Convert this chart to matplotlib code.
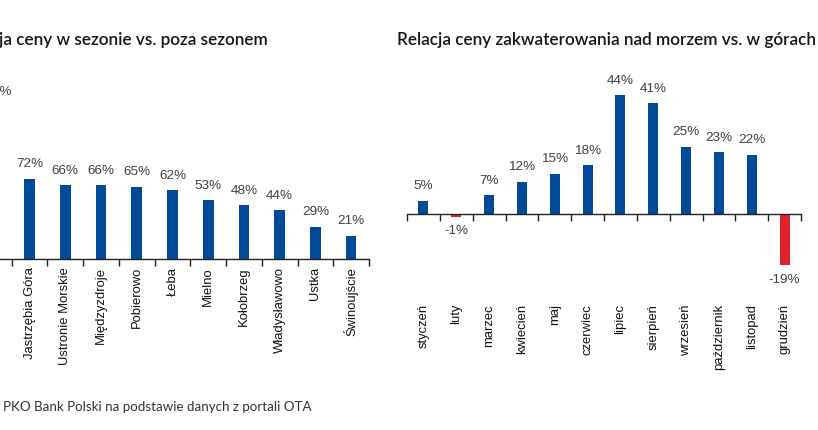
import matplotlib
matplotlib.use("Agg")
import matplotlib.pyplot as plt
from matplotlib.transforms import blended_transform_factory

# ---------------- data ----------------
left_title = "Relacja ceny w sezonie vs. poza sezonem"
left_categories = ["Krynica Morska", "Jastrzębia Góra", "Ustronie Morskie", "Międzyzdroje",
                   "Pobierowo", "Łeba", "Mielno", "Kołobrzeg", "Władysławowo", "Ustka",
                   "Świnoujście"]
left_values = [137, 72, 66, 66, 65, 62, 53, 48, 44, 29, 21]

right_title = "Relacja ceny zakwaterowania nad morzem vs. w górach"
right_categories = ["styczeń", "luty", "marzec", "kwiecień", "maj", "czerwiec", "lipiec",
                    "sierpień", "wrzesień", "październik", "listopad", "grudzień"]
right_values = [5, -1, 7, 12, 15, 18, 44, 41, 25, 23, 22, -19]

source_text = "PKO Bank Polski na podstawie danych z portali OTA"

# ---------------- style ----------------
W, H = 818, 430
BLUE = "#004a97"
RED = "#e0202a"
LABEL_C = "#404040"
TICK_FONT = "Liberation Sans"
TITLE_FONT = "Lato"

fig = plt.figure(figsize=(W / 100, H / 100), dpi=100)


def px_axes(x0, x1, y_top, y_bottom):
    """axes rect from pixel coords (origin top-left)"""
    return fig.add_axes([x0 / W, 1 - y_bottom / H, (x1 - x0) / W, (y_bottom - y_top) / H])


def style_axes(ax, n):
    for s in ["top", "left", "right"]:
        ax.spines[s].set_visible(False)
    ax.spines["bottom"].set_color("#222222")
    ax.spines["bottom"].set_linewidth(1.0)
    ax.set_yticks([])
    ax.set_xticks([i - 0.5 for i in range(n + 1)])
    ax.set_xticklabels([])
    ax.tick_params(axis="x", direction="out", length=5, width=1.0, color="#222222")
    ax.set_xlim(-0.5, n - 0.5)
    ax.patch.set_alpha(0)


def value_labels(ax, xs, vals):
    for x, v in zip(xs, vals):
        if v >= 0:
            ax.annotate(f"{v}%", (x, v), xytext=(0, 6), textcoords="offset points",
                        ha="center", va="bottom", fontsize=9.7, color=LABEL_C,
                        family=TICK_FONT, annotation_clip=False)
        else:
            ax.annotate(f"{v}%", (x, v), xytext=(0, -6), textcoords="offset points",
                        ha="center", va="top", fontsize=9.7, color=LABEL_C,
                        family=TICK_FONT, annotation_clip=False)


# ---------------- left chart ----------------
ppu_l = 1.115  # px per percent
base_l = 259
axl = px_axes(-24, 369, base_l - 160 * ppu_l, base_l)
nl = len(left_categories)
xl = list(range(nl))
axl.bar(xl, left_values, width=0.3, color=BLUE, clip_on=False)
axl.set_ylim(0, 160)
style_axes(axl, nl)
value_labels(axl, xl, left_values)
trl = blended_transform_factory(axl.transData, fig.transFigure)
for x, c in zip(xl, left_categories):
    axl.text(x, 1 - 267 / H, c, transform=trl, rotation=90, ha="center", va="top",
             fontsize=9.4, family=TICK_FONT, color="#111111")

# ---------------- right chart ----------------
ppu_r = 2.7
base_r = 214
axr = px_axes(407, 801, base_r - 50 * ppu_r, base_r + 25 * ppu_r)
nr = len(right_categories)
xr = list(range(nr))
colors = [BLUE if v >= 0 else RED for v in right_values]
axr.bar(xr, right_values, width=0.3, color=colors)
axr.set_ylim(-25, 50)
style_axes(axr, nr)
axr.spines["bottom"].set_position(("data", 0))
value_labels(axr, xr, right_values)
trr = blended_transform_factory(axr.transData, fig.transFigure)
for x, c in zip(xr, right_categories):
    axr.text(x, 1 - 304 / H, c, transform=trr, rotation=90, ha="center", va="top",
             fontsize=9.4, family=TICK_FONT, color="#111111")

# ---------------- titles & source ----------------
fig.text(268 / W, 1 - 40 / H, left_title, ha="right", va="center", fontsize=12.3,
         family=TITLE_FONT, fontweight="semibold", color="#151515")
fig.text(397 / W, 1 - 40 / H, right_title, ha="left", va="center", fontsize=12.3,
         family=TITLE_FONT, fontweight="semibold", color="#151515")
fig.text(3 / W, 1 - 407 / H, source_text, ha="left", va="center", fontsize=9.6,
         family=TITLE_FONT, color="#333333")

fig.savefig("out.png", dpi=100)
